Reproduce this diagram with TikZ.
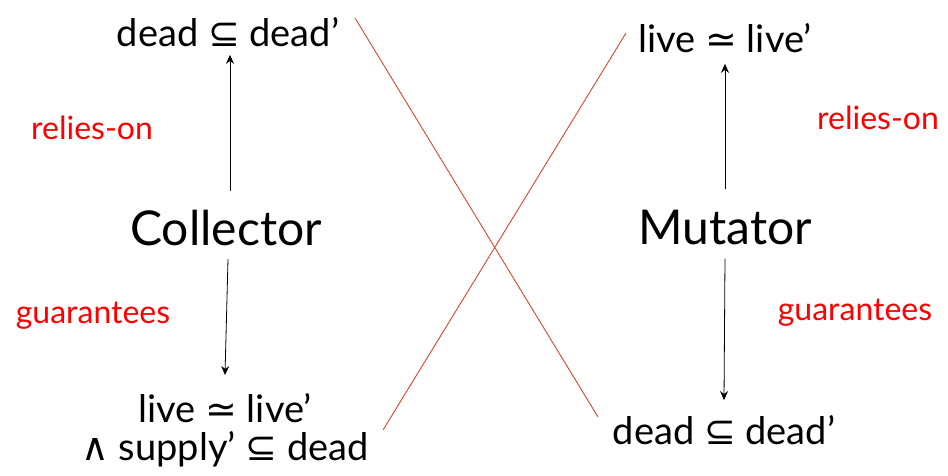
\documentclass[tikz,border=0pt]{standalone}
\usepackage{fontspec}
\setmainfont{Lato}
\newfontfamily\symf{DejaVu Sans}
\usetikzlibrary{arrows.meta}
\definecolor{relred}{RGB}{255,0,0}
\definecolor{linered}{RGB}{222,70,40}
\tikzset{
  formula/.style={inner sep=0pt, font=\fontsize{38}{42}\selectfont, text=black},
  agent/.style={inner sep=0pt, font=\fontsize{48}{52}\selectfont, text=black},
  rel/.style={inner sep=0pt, font=\fontsize{32}{36}\selectfont, text=relred},
  arr/.style={draw=black, line width=0.8pt, -{Stealth[length=9pt,width=8pt]}},
  cross/.style={draw=linered, line width=0.9pt}
}
\newcommand{\mysub}{{\symf ⊆}}
\newcommand{\mysim}{{\symf ≃}}
\newcommand{\myand}{{\symf ∧}}
\begin{document}
\begin{tikzpicture}[x=1pt,y=-1pt]
\useasboundingbox (0,0) rectangle (948,476);
\node[formula] (cdead) at (228,32) {dead \mysub{} dead’};
\node[formula] (mlive) at (725,38) {live \mysim{} live’};
\node[agent] (coll) at (226,228) {Collector};
\node[agent] (mut) at (725,227) {Mutator};
\node[rel] (rl) at (92,128) {relies-on};
\node[rel] (rr) at (878,118) {relies-on};
\node[rel] (gl) at (93,316) {guarantees};
\node[rel] (gr) at (855,313) {guarantees};
\node[formula, align=center] (clive) at (225,430) {live \mysim{} live’\\[-4pt] \myand{} supply’ \mysub{} dead};
\node[formula] (mdead) at (724,430) {dead \mysub{} dead’};
\coordinate (c1) at (355,18);
\coordinate (c2) at (598,417);
\coordinate (c3) at (383,430);
\coordinate (c4) at (626,33);
\draw[arr] ([xshift=4pt,yshift=19pt]coll.north) -- ([xshift=2pt,yshift=-8pt]cdead.south);
\draw[arr] ([xshift=2pt,yshift=-13pt]coll.south) -- ([yshift=18pt]clive.north);
\draw[arr] ([yshift=20pt]mut.north) -- ([yshift=-11pt]mlive.south);
\draw[arr] ([yshift=-14pt]mut.south) -- ([yshift=15pt]mdead.north);
\draw[cross] (c1) -- (c2);
\draw[cross] (c3) -- (c4);
\end{tikzpicture}
\end{document}
